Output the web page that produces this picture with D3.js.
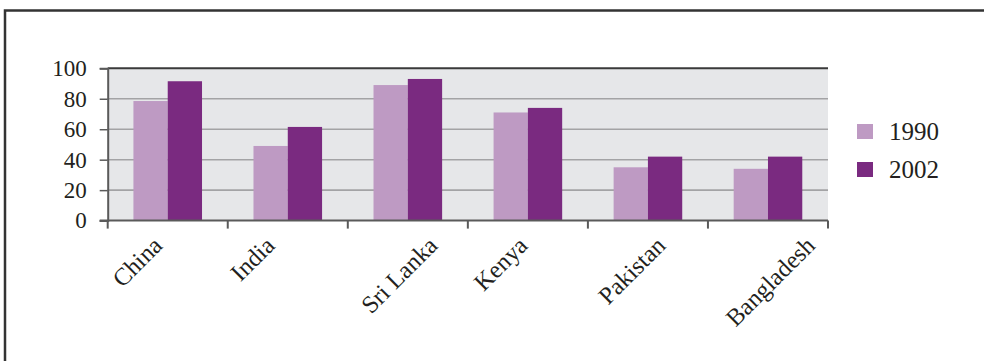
<!DOCTYPE html>
<html>
<head>
<meta charset="utf-8">
<script src="https://cdn.jsdelivr.net/npm/d3@7/dist/d3.min.js"></script>
<style>
  html, body { margin: 0; padding: 0; background: #ffffff; }
  svg { display: block; }
  svg text { font-family: "Liberation Serif", "Times New Roman", serif !important; fill: #231f20; }
</style>
</head>
<body>
<svg id="chart" width="984" height="361"></svg>
<script>
// Data
const countries = ["China", "India", "Sri Lanka", "Kenya", "Pakistan", "Bangladesh"];
const years = ["1990", "2002"];
const values1990 = [78.5, 49, 89, 71, 35, 34];
const values2002 = [91.5, 61.5, 93, 74, 42, 42];
const yTicks = [0, 20, 40, 60, 80, 100];
const seriesColors = ["#be9ac3", "#7a2a80"];

const svg = d3.select("#chart");
const W = 984, H = 361;

// Frame around the figure (left and top edges visible)
svg.append("path")
  .attr("d", `M5,${H} L5,10.5 L${W + 2},10.5`)
  .attr("fill", "none")
  .attr("stroke", "#333333")
  .attr("stroke-width", 2.5);

const plot = { left: 107.7, right: 828, top: 68.3, bottom: 220.6 };

const x = d3.scaleBand()
  .domain(countries)
  .range([plot.left, plot.right])
  .paddingInner(0)
  .paddingOuter(0);

// Gap width of 150%: two bars + 1.5 bar widths of gap per category
const barW = x.bandwidth() / 3.5;
const xInner = d3.scaleBand()
  .domain(years)
  .range([0.75 * barW, 2.75 * barW])
  .padding(0);

const y = d3.scaleLinear().domain([0, 100]).range([plot.bottom, plot.top]);

// Plot background
svg.append("rect")
  .attr("x", plot.left)
  .attr("y", plot.top)
  .attr("width", plot.right - plot.left)
  .attr("height", plot.bottom - plot.top)
  .attr("fill", "#e6e7e9");

// Horizontal gridlines
svg.append("g")
  .selectAll("line")
  .data(yTicks.filter(t => t > 0))
  .join("line")
  .attr("x1", plot.left)
  .attr("x2", plot.right)
  .attr("y1", d => y(d))
  .attr("y2", d => y(d))
  .attr("stroke", d => d === 100 ? "#3a3a3a" : "#a3a3a5")
  .attr("stroke-width", d => d === 100 ? 2 : 1.6);

// Bars
const rows = countries.map((c, i) => ({ country: c, vals: [values1990[i], values2002[i]] }));
const groups = svg.append("g")
  .selectAll("g")
  .data(rows)
  .join("g")
  .attr("transform", d => `translate(${x(d.country)},0)`);

groups.selectAll("rect")
  .data(d => d.vals.map((v, k) => ({ year: years[k], value: v, k })))
  .join("rect")
  .attr("x", d => xInner(d.year))
  .attr("width", xInner.bandwidth())
  .attr("y", d => y(d.value))
  .attr("height", d => y(0) - y(d.value))
  .attr("fill", d => seriesColors[d.k]);

// Y axis
const yAxis = svg.append("g")
  .attr("transform", `translate(${plot.left},0)`)
  .call(d3.axisLeft(y).tickValues(yTicks).tickSize(8).tickPadding(13));
yAxis.attr("font-family", null);
yAxis.select(".domain").attr("stroke", "#5a5a5a").attr("stroke-width", 2);
yAxis.selectAll(".tick line").attr("stroke", "#5a5a5a").attr("stroke-width", 1.5);
yAxis.selectAll(".tick text")
  .attr("font-size", 23)
  .attr("fill", "#231f20");

// X axis line and category tick marks at band boundaries
svg.append("line")
  .attr("x1", plot.left - 8).attr("x2", plot.right)
  .attr("y1", plot.bottom).attr("y2", plot.bottom)
  .attr("stroke", "#5a5a5a").attr("stroke-width", 2);

const boundaries = countries.map(c => x(c)).concat([x.range()[1]]);
svg.append("g")
  .selectAll("line")
  .data(boundaries)
  .join("line")
  .attr("x1", d => d).attr("x2", d => d)
  .attr("y1", plot.bottom).attr("y2", plot.bottom + 8)
  .attr("stroke", "#5a5a5a").attr("stroke-width", 2);

// Rotated category labels
const labels = svg.append("g")
  .selectAll("text")
  .data(countries)
  .join("text")
  .attr("font-size", 24.5)
  .attr("text-anchor", "end")
  .text(d => d);

labels.each(function(d) {
  const len = this.getComputedTextLength();
  const w = len * Math.SQRT1_2;
  const c = x(d) + x.bandwidth() / 2;
  const ex = c + 1.33 * w - 59;
  const ey = 247;
  d3.select(this).attr("transform", `translate(${ex},${ey}) rotate(-45)`);
});

// Legend
const legend = svg.append("g");
years.forEach((yr, k) => {
  const cy = 131.5 + k * 38;
  legend.append("rect")
    .attr("x", 857).attr("y", cy - 7.5)
    .attr("width", 16).attr("height", 15)
    .attr("fill", seriesColors[k]);
  legend.append("text")
    .attr("x", 889).attr("y", cy + 8)
    .attr("font-size", 25)
    .text(yr);
});
</script>
</body>
</html>
